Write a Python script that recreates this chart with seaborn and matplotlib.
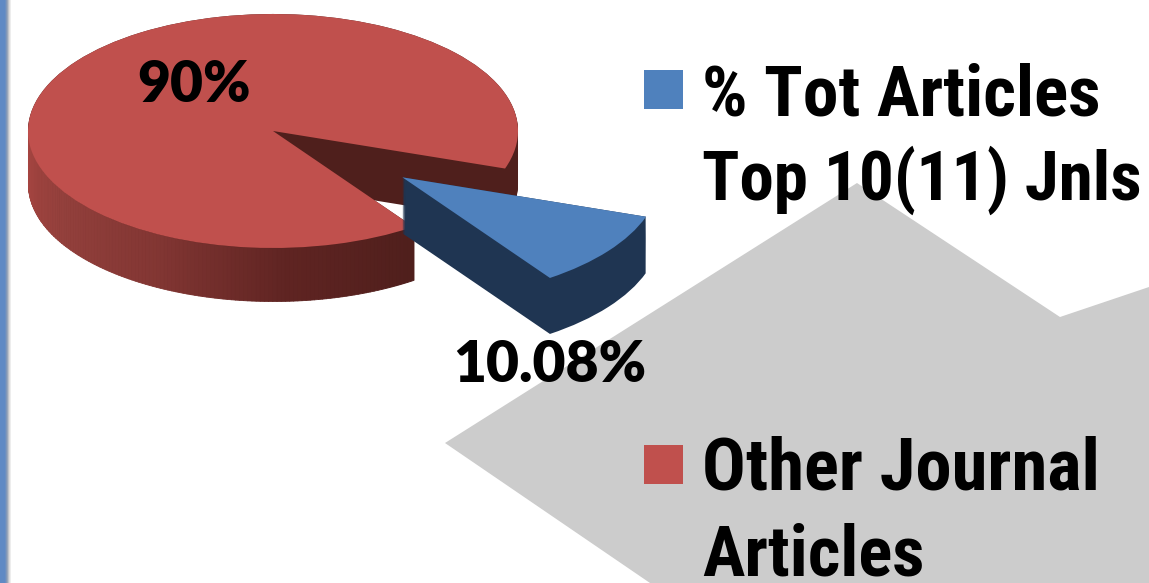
import numpy as np
import matplotlib
matplotlib.use('Agg')
import matplotlib.pyplot as plt
from matplotlib import font_manager
from matplotlib.patches import Rectangle
import seaborn as sns

# data
share_labels = ['% Tot Articles\nTop 10(11) Jnls', 'Other Journal\nArticles']
share_values = [10.08, 89.92]
value_labels = ['10.08%', '90%']
top_colors = ['#4F81BD', '#C0504D']
side_colors = ['#1F3552', '#4F1F1C']

# pie geometry, in pixels of the 1149x583 picture
W, H = 1149, 583
CX, CY = 273, 131
RX, RY = 245, 117
DEPTH = 53 / RY
BLUE_DEPTH = 56 / RY
EXPLODE = 0.66
START = -55

sns.set_theme(style='white')
plt.rcParams['font.family'] = ['Liberation Sans', 'DejaVu Sans']

fig = plt.figure(figsize=(W / 100, H / 100), dpi=100, facecolor='white')

# background layer: grey arrow and the blue edge of the slide
bg = fig.add_axes([0, 0, 1, 1])
bg.set_xlim(0, W)
bg.set_ylim(H, 0)
bg.axis('off')
arrow_x = [445, 857, 1060, 1149, 1149, 650]
arrow_y = [443, 183, 317, 287, 583, 583]
bg.fill(arrow_x, arrow_y, color='#CCCCCC', lw=0)
edge = sns.blend_palette(['#5F8AC4', '#5F8AC4', '#5F8AC4', '#8C9CB4', '#D8D8D8', '#FFFFFF'], 12)
for i, c in enumerate(edge):
    bg.axvspan(i, i + 1, color=c, lw=0)

# pie layer, radius 1 gets stretched into an ellipse by the axes limits
ax = fig.add_axes([0, 0, 1, 1])
ax.patch.set_alpha(0)
n_layers = 56
explode = [EXPLODE, 0]


def draw_pie(dy, colors, keep, radius=1.0):
    wedges, _ = ax.pie(share_values, explode=explode, startangle=START,
                       colors=colors, center=(0, -dy), radius=radius,
                       wedgeprops={'lw': 0})
    for w, k in zip(wedges, keep):
        w.set_visible(k)
    return wedges


# red slice first, blue one sits on top of it
for dy in np.linspace(DEPTH, 0, n_layers):
    draw_pie(dy, side_colors, [False, True])
red = draw_pie(0, top_colors, [False, False])[1]

# shaded front wall of the red slice
t1 = 180
t2 = red.theta2
shade = sns.blend_palette(['#A84541', '#93403C', '#823633', '#5F2422', '#4F1F1C'], 128)
angles = np.linspace(t1, t2, len(shade) + 1)
for i, c in enumerate(shade):
    t = np.radians(np.linspace(angles[i], angles[i + 1], 4))
    ax.fill_between(np.cos(t), np.sin(t), np.sin(t) - DEPTH, color=c, lw=0.6, zorder=3)

for w in draw_pie(0, top_colors, [False, True]):
    w.set_zorder(4)
# the blue slice looks a bit bigger, it is nearer to the viewer
for dy in np.linspace(BLUE_DEPTH, 0, n_layers):
    for w in draw_pie(dy, side_colors, [True, False], radius=1.05):
        w.set_zorder(5)
for w in draw_pie(0, top_colors, [True, False], radius=1.05):
    w.set_zorder(6)

ax.set_aspect('auto')
ax.set_xlim(-CX / RX, (W - CX) / RX)
ax.set_ylim((CY - H) / RY, CY / RY)
ax.axis('off')

# text and legend layer
fg = fig.add_axes([0, 0, 1, 1])
fg.patch.set_alpha(0)
fg.set_xlim(0, W)
fg.set_ylim(H, 0)
fg.axis('off')

label_font = ['Lato', 'DejaVu Sans']
fg.text(137, 102, value_labels[1], fontsize=41, fontweight='heavy', family=label_font,
        color='black', va='baseline')
fg.text(453, 382, value_labels[0], fontsize=41, fontweight='heavy', family=label_font,
        color='black', va='baseline')

# no Arial Narrow here, Roboto Condensed is the closest installed
# sizes per line so each line ends about where it does in the original
installed = {f.name for f in font_manager.fontManager.ttflist}
narrow = [n for n in ['Liberation Sans Narrow', 'Roboto Condensed', 'Roboto'] if n in installed]
legend_font = narrow[:1] + ['DejaVu Sans']
legend_y = [(70, [115, 200], [51.4, 49.8]), (445, [490, 575], [52.3, 51])]
for lab, col, (box_y, baselines, sizes) in zip(share_labels, top_colors, legend_y):
    fg.add_patch(Rectangle((644, box_y), 39, 39, color=col, lw=0))
    for line, base, size in zip(lab.split('\n'), baselines, sizes):
        fg.text(702, base, line, fontsize=size, fontweight='bold', family=legend_font,
                color='black', va='baseline')

fig.savefig('out.png', dpi=100)
